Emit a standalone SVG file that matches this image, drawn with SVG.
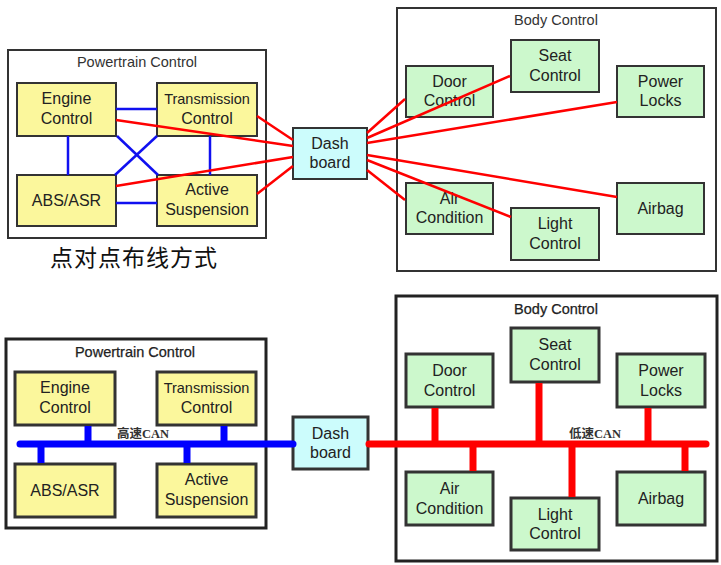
<svg xmlns="http://www.w3.org/2000/svg" width="721" height="565" viewBox="0 0 721 565">
<style>
.bg{fill:#ffffff}
.frame{fill:#ffffff;stroke:#333333;stroke-width:2}
.frame2{fill:#ffffff;stroke:#222222;stroke-width:3}
.pt{fill:#fbf79c;stroke:#333333;stroke-width:2}
.bd{fill:#ccf8cc;stroke:#333333;stroke-width:2}
.db{fill:#ccfcfc;stroke:#333333;stroke-width:2}
.b2{stroke-width:3}
text{font-family:"Liberation Sans",Arial,sans-serif;fill:#222222;text-anchor:middle}
.lbl{font-size:16px}
.sm{font-size:14.5px}
.ttl{font-size:14.5px;fill:#333333}
.ttlb{font-size:14.5px;fill:#222222;stroke:#222222;stroke-width:0.25}
.cn{font-family:"Noto Sans CJK SC",sans-serif;font-size:23px;letter-spacing:1px;fill:#111111}
.can{font-family:"Liberation Serif","Noto Sans CJK SC",serif;font-size:12.5px;font-weight:bold;fill:#333333}
.blue{stroke:#1010f0;stroke-width:2.5;fill:none}
.red{stroke:#ff0000;stroke-width:2.5;fill:none}
.bbus{stroke:#0000ff;stroke-width:7;fill:none}
.rbus{stroke:#ff0000;stroke-width:7;fill:none}
</style>
<rect class="bg" x="0" y="0" width="721" height="565"/>

<!-- ===== Top: point-to-point ===== -->
<g id="top-powertrain-frame">
<rect class="frame" x="8" y="50" width="258" height="188"/>
<text class="ttl" x="137" y="67">Powertrain Control</text>
</g>
<g id="top-body-frame">
<rect class="frame" x="397" y="8" width="319" height="263"/>
<text class="ttl" x="556" y="25">Body Control</text>
</g>
<g id="top-engine"><rect class="pt" x="17" y="83" width="99" height="53"/><text class="lbl" x="66.5" y="104">Engine</text><text class="lbl" x="66.5" y="123.5">Control</text></g>
<g id="top-transmission"><rect class="pt" x="157" y="83" width="100" height="53"/><text class="sm" x="207" y="104">Transmission</text><text class="lbl" x="207" y="123.5">Control</text></g>
<g id="top-abs"><rect class="pt" x="17" y="175" width="99" height="51"/><text class="lbl" x="66.5" y="206">ABS/ASR</text></g>
<g id="top-active"><rect class="pt" x="157" y="175" width="100" height="51"/><text class="lbl" x="207" y="195">Active</text><text class="lbl" x="207" y="214.5">Suspension</text></g>
<g id="top-dash"><rect class="db" x="293" y="128" width="74" height="51"/><text class="lbl" x="330" y="149">Dash</text><text class="lbl" x="330" y="168">board</text></g>
<g id="top-door"><rect class="bd" x="406" y="66" width="87" height="51"/><text class="lbl" x="449.5" y="87">Door</text><text class="lbl" x="449.5" y="106">Control</text></g>
<g id="top-seat"><rect class="bd" x="511" y="40" width="88" height="52"/><text class="lbl" x="555" y="61">Seat</text><text class="lbl" x="555" y="80.5">Control</text></g>
<g id="top-power"><rect class="bd" x="617" y="66" width="87" height="51"/><text class="lbl" x="660.5" y="87">Power</text><text class="lbl" x="660.5" y="106">Locks</text></g>
<g id="top-air"><rect class="bd" x="406" y="183" width="87" height="51"/><text class="lbl" x="449.5" y="204">Air</text><text class="lbl" x="449.5" y="223">Condition</text></g>
<g id="top-light"><rect class="bd" x="511" y="208" width="88" height="52"/><text class="lbl" x="555" y="229">Light</text><text class="lbl" x="555" y="248.5">Control</text></g>
<g id="top-airbag"><rect class="bd" x="617" y="183" width="87" height="51"/><text class="lbl" x="660.5" y="214">Airbag</text></g>

<g id="top-connectors">
<line class="blue" x1="116" y1="109" x2="157" y2="109"/>
<line class="blue" x1="116" y1="203" x2="157" y2="203"/>
<line class="blue" x1="68" y1="136" x2="68" y2="175"/>
<line class="blue" x1="210" y1="136" x2="210" y2="175"/>
<line class="blue" x1="117" y1="136" x2="158" y2="175"/>
<line class="blue" x1="115" y1="175" x2="157" y2="136"/>
<line class="red" x1="116" y1="120" x2="293" y2="146"/>
<line class="red" x1="257" y1="116" x2="293" y2="140"/>
<line class="red" x1="116" y1="186" x2="293" y2="157"/>
<line class="red" x1="257" y1="194" x2="293" y2="166"/>
<line class="red" x1="367" y1="133" x2="405" y2="99"/>
<line class="red" x1="367" y1="138" x2="510" y2="76"/>
<line class="red" x1="367" y1="143" x2="617" y2="102"/>
<line class="red" x1="367" y1="155" x2="617" y2="197"/>
<line class="red" x1="367" y1="160" x2="511" y2="217"/>
<line class="red" x1="367" y1="170" x2="405" y2="200"/>
</g>
<text class="cn" x="134" y="266">点对点布线方式</text>

<!-- ===== Bottom: CAN bus ===== -->
<g id="bot-powertrain-frame">
<rect class="frame2" x="6" y="339" width="260" height="189"/>
<text class="ttlb" x="135" y="357">Powertrain Control</text>
</g>
<g id="bot-body-frame">
<rect class="frame2" x="396" y="296" width="321" height="265"/>
<text class="ttlb" x="556" y="314">Body Control</text>
</g>
<g id="bot-engine"><rect class="pt b2" x="15" y="372" width="100" height="53"/><text class="lbl" x="65" y="393">Engine</text><text class="lbl" x="65" y="412.5">Control</text></g>
<g id="bot-transmission"><rect class="pt b2" x="157" y="372" width="99" height="53"/><text class="sm" x="206.5" y="393">Transmission</text><text class="lbl" x="206.5" y="412.5">Control</text></g>
<g id="bot-abs"><rect class="pt b2" x="15" y="464" width="100" height="53"/><text class="lbl" x="65" y="496">ABS/ASR</text></g>
<g id="bot-active"><rect class="pt b2" x="157" y="464" width="99" height="53"/><text class="lbl" x="206.5" y="485">Active</text><text class="lbl" x="206.5" y="504.5">Suspension</text></g>
<g id="bot-dash"><rect class="db b2" x="293" y="417" width="75" height="52"/><text class="lbl" x="330.5" y="439">Dash</text><text class="lbl" x="330.5" y="458">board</text></g>
<g id="bot-door"><rect class="bd b2" x="406" y="354" width="87" height="53"/><text class="lbl" x="449.5" y="376">Door</text><text class="lbl" x="449.5" y="395.5">Control</text></g>
<g id="bot-seat"><rect class="bd b2" x="511" y="328" width="88" height="54"/><text class="lbl" x="555" y="350">Seat</text><text class="lbl" x="555" y="369.5">Control</text></g>
<g id="bot-power"><rect class="bd b2" x="617" y="354" width="88" height="53"/><text class="lbl" x="661" y="376">Power</text><text class="lbl" x="661" y="395.5">Locks</text></g>
<g id="bot-air"><rect class="bd b2" x="406" y="472" width="87" height="53"/><text class="lbl" x="449.5" y="494">Air</text><text class="lbl" x="449.5" y="513.5">Condition</text></g>
<g id="bot-light"><rect class="bd b2" x="511" y="498" width="88" height="52"/><text class="lbl" x="555" y="520">Light</text><text class="lbl" x="555" y="539">Control</text></g>
<g id="bot-airbag"><rect class="bd b2" x="617" y="472" width="88" height="53"/><text class="lbl" x="661" y="504">Airbag</text></g>

<g id="bot-connectors">
<line class="bbus" x1="20" y1="444" x2="293" y2="444" stroke-linecap="round"/>
<line class="bbus" x1="88" y1="426" x2="88" y2="444"/>
<line class="bbus" x1="224" y1="426" x2="224" y2="444"/>
<line class="bbus" x1="41" y1="444" x2="41" y2="463"/>
<line class="bbus" x1="187" y1="444" x2="187" y2="463"/>
<line class="rbus" x1="369" y1="444" x2="706" y2="444" stroke-linecap="round"/>
<line class="rbus" x1="435" y1="408" x2="435" y2="444"/>
<line class="rbus" x1="539" y1="383" x2="539" y2="444"/>
<line class="rbus" x1="648" y1="408" x2="648" y2="444"/>
<line class="rbus" x1="473" y1="444" x2="473" y2="471"/>
<line class="rbus" x1="572" y1="444" x2="572" y2="497"/>
<line class="rbus" x1="685" y1="444" x2="685" y2="471"/>
</g>
<text class="can" x="143" y="438">高速CAN</text>
<text class="can" x="595" y="438">低速CAN</text>
</svg>
